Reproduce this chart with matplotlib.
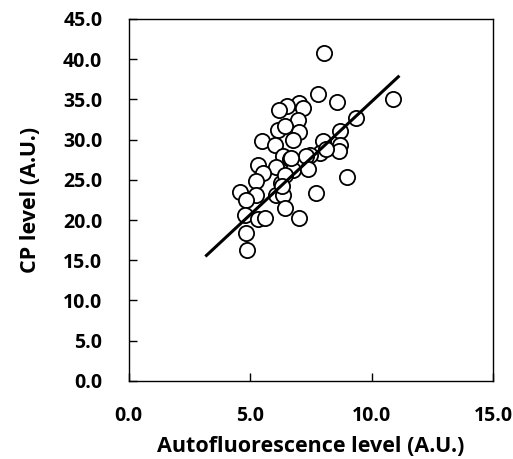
import matplotlib
matplotlib.use("Agg")
from matplotlib import pyplot as plt
import numpy as np

# Autofluorescence vs CP level
auto_level = [8.04, 7.79, 8.59, 10.88, 9.34, 7.01, 7.17, 6.52, 6.19, 6.97,
              6.15, 6.42, 7.01, 6.76, 5.50, 6.01, 8.68, 8.71, 8.66, 8.00,
              7.89, 8.11, 7.45, 7.28, 6.35, 6.63, 6.08, 5.32, 5.53, 6.76,
              7.38, 9.00, 5.23, 6.26, 6.42, 4.57, 5.23, 6.08, 6.35, 7.72,
              4.81, 4.77, 5.32, 5.62, 6.42, 7.01, 4.81, 4.88, 6.70, 6.30]
cp_level = [40.7, 35.6, 34.7, 35.0, 32.7, 34.5, 33.9, 34.2, 33.7, 32.4,
            31.2, 31.7, 30.9, 30.0, 29.8, 29.3, 31.0, 29.3, 28.6, 29.8,
            28.3, 28.8, 28.1, 27.9, 27.9, 27.6, 26.6, 26.8, 25.9, 26.2,
            26.3, 25.4, 24.8, 24.6, 25.6, 23.5, 23.1, 23.1, 23.1, 23.4,
            22.5, 20.6, 20.1, 20.2, 21.5, 20.3, 18.4, 16.3, 27.7, 24.2]

# trend line end points
fit_x = [3.2, 11.1]
fit_y = [15.6, 37.8]

ticks_x = [0, 5, 10, 15]
ticks_y = [0, 5, 10, 15, 20, 25, 30, 35, 40, 45]

plt.rcParams["font.family"] = ["Open Sans", "DejaVu Sans"]
plt.rcParams["font.weight"] = "bold"

fig = plt.figure(figsize=(5.13, 4.59), dpi=100)
ax = fig.add_axes([0.251, 0.170, 0.710, 0.789])

ax.scatter(auto_level, cp_level, s=120, facecolors="white",
           edgecolors="black", linewidths=1.3, zorder=3)
ax.plot(fit_x, fit_y, color="black", linewidth=2.2, zorder=4)

ax.set_xlim(0, 15)
ax.set_ylim(0, 45)
ax.set_xticks(ticks_x)
ax.set_yticks(ticks_y)
ax.set_xticklabels([f"{v:.1f}" for v in ticks_x])
ax.set_yticklabels([f"{v:.1f}" for v in ticks_y])
ax.tick_params(axis="both", direction="in", length=6, width=1,
               labelsize=14)
ax.tick_params(axis="x", pad=18)
ax.tick_params(axis="y", pad=19)
for sp in ax.spines.values():
    sp.set_linewidth(1)

ax.set_xlabel("Autofluorescence level (A.U.)", fontsize=15.5,
              fontweight="bold", labelpad=7)
ax.set_ylabel("CP level (A.U.)", fontsize=15.5, fontweight="bold",
              labelpad=16)

plt.savefig("out.png", dpi=100)
